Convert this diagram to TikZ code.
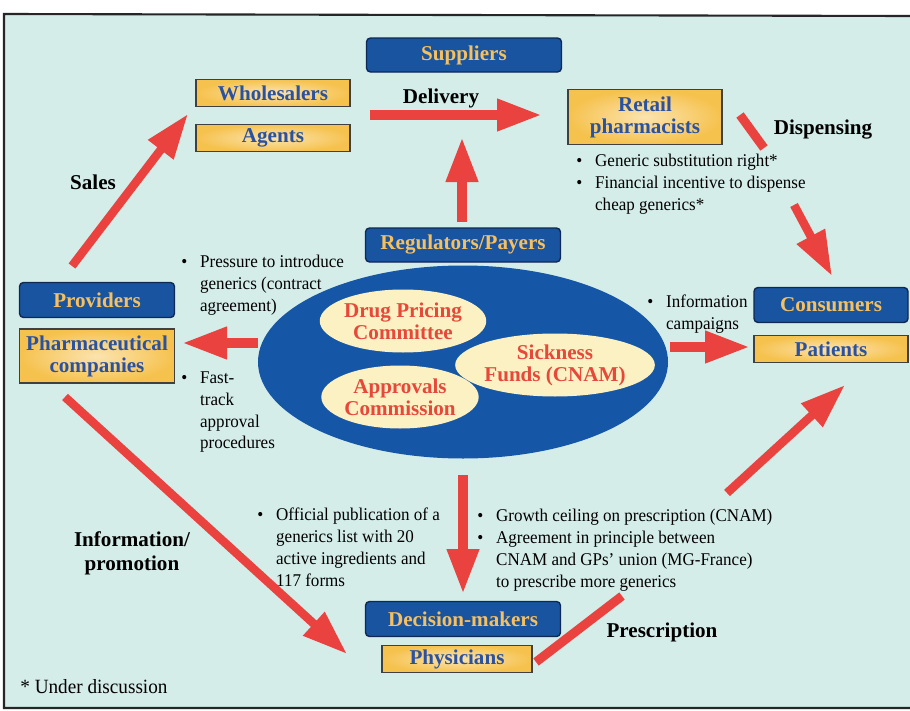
\documentclass[tikz,border=0pt]{standalone}
\usepackage{fontspec}
\setmainfont{Liberation Serif}
\newfontfamily\notefont{Liberation Serif}[FakeStretch=0.95]
\usetikzlibrary{arrows.meta, positioning, shapes.geometric}

\definecolor{bgmint}{RGB}{212,237,233}
\definecolor{boxblue}{RGB}{24,84,160}
\definecolor{navyedge}{RGB}{16,40,84}
\definecolor{boxorange}{RGB}{246,192,96}
\definecolor{boxyellow}{RGB}{246,194,78}
\definecolor{boxtext}{RGB}{42,82,160}
\definecolor{councilblue}{RGB}{22,86,166}
\definecolor{cream}{RGB}{252,241,194}
\definecolor{bodyred}{RGB}{230,72,58}
\definecolor{arrowred}{RGB}{234,66,62}

\newcommand{\bitem}{\makebox[1.05em][l]{\textbullet}}
\newcommand{\bcont}{\hspace*{1.05em}}

\begin{document}
\begin{tikzpicture}[
    x=0.2mm, y=-0.2mm,
    actorbox/.style={draw=navyedge, line width=0.8pt, rounded corners=0.8mm, fill=boxblue, text=boxorange,
        font=\bfseries\fontsize{12}{13}\selectfont, minimum width=39mm, minimum height=6.8mm, inner sep=1pt},
    rolebox/.style={draw=black!75, line width=0.7pt, inner color=boxyellow!45!white, outer color=boxyellow, text=boxtext,
        font=\bfseries\fontsize{12}{12.5}\selectfont, align=center, minimum width=30.8mm, minimum height=5.5mm, inner sep=1pt},
    body/.style={ellipse, fill=cream, text=bodyred, font=\bfseries\fontsize{12}{12.5}\selectfont, align=center,
        inner sep=0pt, minimum width=31mm, minimum height=12.6mm},
    flow/.style={draw=arrowred, line width=2mm, -{Triangle[length=9mm, width=6mm]}},
    stub/.style={draw=arrowred, line width=1.8mm},
    note/.style={anchor=north west, align=left, inner sep=0pt, font=\notefont\fontsize{10.2}{12.5}\selectfont},
    tag/.style={font=\bfseries\fontsize{12}{13.5}\selectfont, align=center}
]
\useasboundingbox (0,0) rectangle (910,711);
\fill[white] (0,0) rectangle (910,711);
\fill[bgmint] (4,15) rectangle (910,708);
\draw[line width=1.2pt, black!85] (910,16) -- (4,14) -- (4,708) -- (910,708);

% actors and roles
\node[actorbox] (suppliers) at (464,55) {Suppliers};
\node[rolebox] (wholesalers) at (273,93) {Wholesalers};
\node[rolebox] (agents) at (273,138) {Agents};
\node[rolebox, minimum height=11mm] (retail) at (645,117) {Retail\\pharmacists};

\node[actorbox] (regulators) at (463,245) {Regulators/Payers};

\node[actorbox, minimum width=31mm, minimum height=7mm] (providers) at (97,300) {Providers};
\node[rolebox, minimum width=31mm, minimum height=10.8mm] (pharma) at (97,356) {Pharmaceutical\\companies};

\node[actorbox, minimum width=30.8mm, minimum height=7mm] (consumers) at (831,305) {Consumers};
\node[rolebox] (patients) at (831,349) {Patients};

\node[actorbox, minimum height=7mm] (decision) at (463,619) {Decision-makers};
\node[rolebox, minimum width=30mm] (physicians) at (457,659) {Physicians};

% regulators' bodies
\node[ellipse, fill=councilblue, minimum width=82mm, minimum height=38.6mm] (council) at (463,362) {};
\node[body] (pricing) at (403,321) {Drug Pricing\\Committee};
\node[body] (sickness) at (555,365) {Sickness\\Funds (CNAM)};
\node[body] (approvals) at (400,397) {Approvals\\Commission};

% flow labels
\node[tag] (delivery) at (441,98) {Delivery};
\node[tag] (dispensing) at (823,130) {Dispensing};
\node[tag] (sales) at (93,182) {Sales};
\node[tag] (promotion) at (132,553) {Information/\\promotion};
\node[tag] (prescription) at (662,632) {Prescription};

% measures
\node[note] (subst) at (576,154) {\bitem Generic substitution right*\\\bitem Financial incentive to dispense\\\bcont cheap generics*};
\node[note] (pressure) at (181,255) {\bitem Pressure to introduce\\\bcont generics (contract\\\bcont agreement)};
\node[note] (fasttrack) at (181,371) {\bitem Fast-\\\bcont track\\\bcont approval\\\bcont procedures};
\node[note] (campaigns) at (647,295) {\bitem Information\\\bcont campaigns};
\node[note] (publication) at (257,508) {\bitem Official publication of a\\\bcont generics list with 20\\\bcont active ingredients and\\\bcont 117 forms};
\node[note] (ceiling) at (477,509) {\bitem Growth ceiling on prescription (CNAM)\\\bitem Agreement in principle between\\\bcont CNAM and GPs’ union (MG-France)\\\bcont to prescribe more generics};
\node[note, anchor=west, font=\notefont\fontsize{11.5}{13}\selectfont] (footnote) at (20,687) {* Under discussion};

% arrow ends
\coordinate (deliv-a) at (370,115);
\coordinate (deliv-b) at (542,115);
\coordinate (up-a) at (462,222);
\coordinate (up-b) at (462,137);
\coordinate (down-a) at (463,475);
\coordinate (down-b) at (463,594);
\coordinate (left-a) at (258,343);
\coordinate (left-b) at (182,343);
\coordinate (right-a) at (670,347);
\coordinate (right-b) at (750,347);
\coordinate (sales-a) at (72,266);
\coordinate (sales-b) at (188,114);
\coordinate (promo-a) at (65,397);
\coordinate (promo-b) at (347,654);
\coordinate (disp-a) at (740,115);
\coordinate (disp-b) at (764,148);
\coordinate (disp-c) at (794,205);
\coordinate (disp-d) at (832,276);
\coordinate (presc-a) at (536,662);
\coordinate (presc-b) at (622,596);
\coordinate (presc-c) at (727,493);
\coordinate (presc-d) at (845,385);

\draw[flow] (deliv-a) -- (deliv-b);
\draw[flow] (up-a) -- (up-b);
\draw[flow] (down-a) -- (down-b);
\draw[flow] (left-a) -- (left-b);
\draw[flow] (right-a) -- (right-b);
\draw[flow, line width=1.7mm] (sales-a) -- (sales-b);
\draw[flow, line width=1.7mm] (promo-a) -- (promo-b);
\draw[stub] (disp-a) -- (disp-b);
\draw[flow, line width=1.7mm] (disp-c) -- (disp-d);
\draw[stub] (presc-a) -- (presc-b);
\draw[flow, line width=1.7mm] (presc-c) -- (presc-d);
\end{tikzpicture}
\end{document}
